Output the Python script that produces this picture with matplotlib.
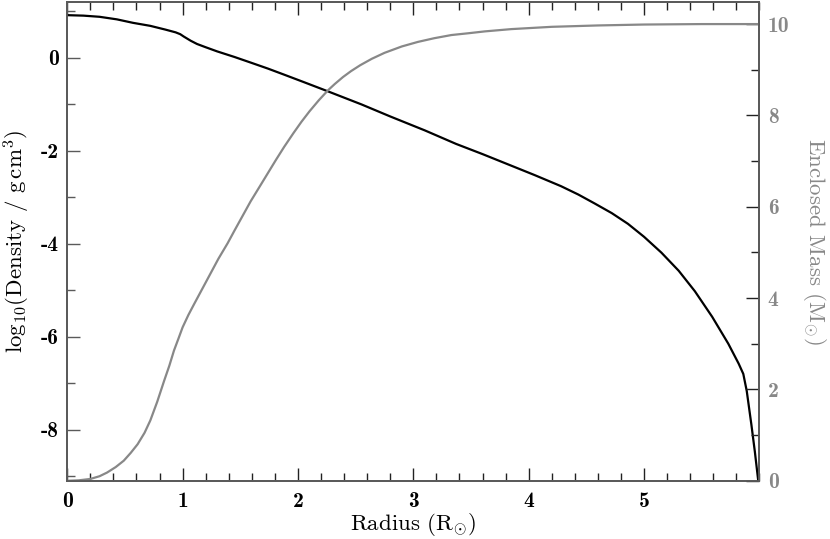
"""Density and enclosed mass profile of a stellar model."""
import numpy as np
import matplotlib.pyplot as plt
from matplotlib.ticker import MultipleLocator, FixedLocator

plt.rcParams.update({
    "font.family": ["cmb10", "DejaVu Serif"],
    "mathtext.fontset": "cm",
    "axes.unicode_minus": False,
    "xtick.direction": "in",
    "ytick.direction": "in",
})

# density profile (log10 g cm^-3) vs radius (R_sun)
rad_rho = [0.0, 0.14, 0.28, 0.43, 0.57, 0.72, 0.85, 0.91, 0.94, 0.98, 1.01,
           1.07, 1.125, 1.20, 1.30, 1.45, 1.59, 1.74, 1.88, 2.05, 2.25, 2.55,
           2.80, 3.10, 3.37, 3.60, 3.85, 4.05, 4.28, 4.43, 4.57, 4.72, 4.86,
           5.00, 5.15, 5.30, 5.44, 5.59, 5.73, 5.82, 5.86, 5.89, 5.93, 5.96,
           5.99, 6.0]
log_rho = [0.92, 0.91, 0.885, 0.83, 0.755, 0.69, 0.61, 0.57, 0.55, 0.51,
           0.46, 0.37, 0.30, 0.23, 0.14, 0.02, -0.10, -0.23, -0.36, -0.52,
           -0.71, -1.00, -1.26, -1.56, -1.85, -2.07, -2.32, -2.52, -2.76,
           -2.94, -3.13, -3.34, -3.57, -3.85, -4.19, -4.58, -5.02, -5.57,
           -6.15, -6.58, -6.80, -7.17, -7.89, -8.47, -9.11, -9.6]

# enclosed mass (M_sun) vs radius (R_sun)
rad_m = [0.0, 0.1, 0.2, 0.28, 0.345, 0.42, 0.49, 0.55, 0.61, 0.67, 0.72,
         0.78, 0.84, 0.885, 0.925, 0.965, 1.0, 1.05, 1.10, 1.17, 1.24, 1.31,
         1.39, 1.45, 1.52, 1.59, 1.67, 1.74, 1.81, 1.88, 1.96, 2.03, 2.10,
         2.18, 2.26, 2.32, 2.39, 2.46, 2.54, 2.64, 2.75, 2.90, 3.04, 3.18,
         3.33, 3.48, 3.62, 3.85, 4.2, 4.6, 5.0, 5.5, 6.0]
mass = [0.0, 0.01, 0.04, 0.10, 0.18, 0.30, 0.44, 0.61, 0.80, 1.05, 1.32,
        1.73, 2.19, 2.52, 2.85, 3.12, 3.36, 3.63, 3.87, 4.20, 4.53, 4.86,
        5.20, 5.48, 5.80, 6.12, 6.45, 6.74, 7.03, 7.31, 7.61, 7.86, 8.09,
        8.33, 8.55, 8.69, 8.84, 8.97, 9.10, 9.24, 9.37, 9.51, 9.61, 9.69,
        9.76, 9.80, 9.84, 9.89, 9.94, 9.97, 9.99, 10.0, 10.0]

spine_col = "#5a5a5a"
grey = "#888888"

fig = plt.figure(figsize=(8.3, 5.39), dpi=100)
ax = fig.add_axes([0.081, 0.108, 0.834, 0.888])
ax2 = ax.twinx()

ax.plot(rad_rho, log_rho, color="black", lw=1.6, zorder=3)
ax2.plot(rad_m, mass, color=grey, lw=1.6)

ax.set_xlim(0, 6.0)
ax.set_ylim(-9.1, 1.2)
ax2.set_ylim(0, 10.48)

ax.xaxis.set_major_locator(FixedLocator([0, 1, 2, 3, 4, 5]))
ax.xaxis.set_minor_locator(MultipleLocator(0.2))
ax.yaxis.set_major_locator(MultipleLocator(2))
ax.yaxis.set_minor_locator(MultipleLocator(1))
ax2.yaxis.set_major_locator(MultipleLocator(2))
ax2.yaxis.set_minor_locator(MultipleLocator(1))

ax.tick_params(axis="x", which="both", top=True, bottom=True,
               color="#222222", labelsize=15.5, pad=8)
ax.tick_params(axis="y", which="both", left=True, right=False,
               color=spine_col, labelsize=15.5, pad=6)
ax.tick_params(which="major", length=9.5, width=1.0)
ax.tick_params(which="minor", length=5.8, width=1.0)
ax2.tick_params(axis="y", which="both", color="#222222", labelcolor=grey,
                labelsize=15.5, pad=6)
ax2.tick_params(which="major", length=9.5, width=1.0)
ax2.tick_params(which="minor", length=5.8, width=1.0)

for a in (ax, ax2):
    for s in a.spines.values():
        s.set_color(spine_col)
        s.set_linewidth(1.3)

ax.set_xlabel(r"Radius (R$_{\odot}$)", fontsize=16.5, family="cmr10",
              labelpad=0)
ax.set_ylabel(r"log$_{10}$(Density / g$\,$cm$^{3}$)", fontsize=16.5,
              family="cmr10", labelpad=6)
ax2.set_ylabel(r"Enclosed Mass (M$_{\odot}$)", fontsize=16.5, family="cmr10",
               color=grey, rotation=270, labelpad=28)

plt.savefig("out.png", dpi=100)
plt.close()
